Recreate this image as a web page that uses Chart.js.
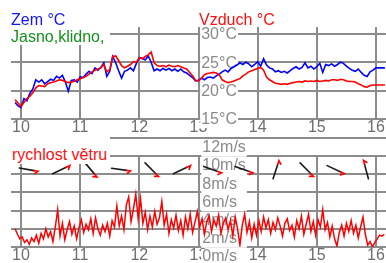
<!DOCTYPE html>
<html>
<head>
<meta charset="utf-8">
<script src="https://cdn.jsdelivr.net/npm/chart.js@4/dist/chart.umd.min.js"></script>
<style>
  html, body { margin:0; padding:0; background:#fff; overflow:hidden; width:386px; height:263px; }
  #wrap { position:relative; width:386px; height:263px; overflow:hidden; }
  canvas { position:absolute; left:0; }
  #c1 { top:0; }
  #c2 { top:137px; }
  .lbl { position:absolute; font-family:"Liberation Sans", Arial, sans-serif; font-size:16px; line-height:17px; white-space:nowrap; }
  .box { background:#fff; }
</style>
</head>
<body>
<div id="wrap">
  <canvas id="c1" width="386" height="137"></canvas>
  <canvas id="c2" width="386" height="128"></canvas>
  <div class="lbl box" style="left:0;top:8px;width:67px;height:19px;"></div>
  <div class="lbl" style="left:11px;top:11px;color:#1414ff;">Zem °C</div>
  <div class="lbl box" style="left:0;top:27px;width:110px;height:18px;padding-top:1px;box-sizing:border-box;"><span style="margin-left:11px;color:#12921a;">Jasno,klidno,</span></div>
  <div class="lbl" style="left:199px;top:11px;color:#ff1010;">Vzduch °C</div>
  <div class="lbl box" style="left:0;top:137px;width:110px;height:27px;padding-top:9px;box-sizing:border-box;"><span style="margin-left:12px;color:#ff1010;">rychlost větru</span></div>
</div>
<script>
// ---- data ----
const hourTicks = [10, 11, 12, 13, 14, 15, 16];
const tempTicks = [15, 20, 25, 30];
const windTicks = [0, 2, 4, 6, 8, 10, 12];

// temperature samples: start 9.90 h, every 0.05 h
const tempStart = 9.90, tempStep = 0.05;
const zemTemp = [
17.9,17.3,17.0,18.6,18.2,19.5,20.3,21.9,21.5,21.9,
21.2,21.6,22.0,21.8,22.5,22.2,22.7,21.5,19.9,21.8,
21.9,21.5,22.4,22.3,22.9,23.4,23.0,24.0,23.6,24.1,
24.9,22.5,23.4,26.0,24.9,23.5,22.2,23.4,23.6,24.0,
23.5,24.8,25.8,25.7,25.4,26.1,25.0,23.5,23.8,23.5,
23.9,23.6,23.9,23.5,23.8,23.4,23.8,23.3,23.1,22.7,
22.3,21.7,21.8,22.2,21.9,22.3,22.4,22.2,22.6,22.9,
23.3,23.6,23.3,23.9,24.2,24.5,24.9,24.6,25.0,24.7,
24.2,24.6,25.1,24.3,25.6,24.5,24.0,23.8,23.3,23.5,
23.2,23.4,23.1,23.5,23.9,24.2,23.8,24.1,24.9,24.0,
24.3,23.8,24.2,24.8,23.2,24.6,24.4,24.7,24.3,24.6,
25.0,24.8,24.3,23.9,23.6,23.4,23.8,23.2,22.7,22.5,
23.3,23.6,24.0,24.0,24.0,24.0];
const vzduchTemp = [
18.4,17.8,17.2,17.9,18.6,19.0,19.6,20.5,20.9,20.8,
20.7,21.2,21.4,21.5,21.7,21.9,21.8,21.6,21.4,21.5,
21.6,21.9,22.1,22.3,22.5,22.9,23.3,23.6,23.8,24.0,
24.6,23.3,23.7,26.0,26.1,25.3,24.4,24.0,24.3,24.6,
25.1,25.0,25.8,25.6,26.0,26.3,26.8,24.9,24.4,24.3,
24.4,24.2,24.5,24.3,24.2,24.4,24.2,24.0,23.8,23.2,
22.6,21.8,21.7,22.2,22.8,23.0,23.1,23.2,23.1,22.8,
21.9,21.6,21.4,21.5,21.7,21.9,22.1,22.6,22.9,23.3,
23.5,23.7,23.9,24.1,23.6,22.4,21.9,21.6,21.3,21.2,
21.1,21.2,21.1,21.3,21.4,21.5,21.6,21.5,21.7,21.6,
21.7,21.6,21.8,21.6,21.7,21.8,21.7,21.9,21.9,21.8,
22.0,21.9,21.7,21.6,21.6,21.5,21.2,21.0,20.7,20.6,
20.9,21.0,21.0,21.0,21.0,21.0];

// wind speed samples (m/s): start 9.90 h, every 0.04 h
const windStart = 9.90, windStep = 0.04;
const windSpeed = [
2.0,1.4,0.9,1.1,0.5,0.8,0.3,1.0,0.6,1.3,
0.4,1.5,0.9,2.0,1.1,1.7,0.6,2.2,4.1,1.2,
2.6,0.8,1.9,2.8,1.4,2.3,0.9,2.1,3.0,1.6,
2.5,1.9,3.1,1.5,3.2,2.0,1.3,2.4,1.7,2.6,
1.2,2.9,2.2,4.5,2.3,3.4,1.9,4.6,5.5,2.8,
4.2,5.8,3.1,5.3,2.6,3.8,1.9,3.4,2.2,3.9,
2.5,3.2,5.0,2.4,3.6,1.5,3.0,2.1,3.5,1.8,
2.9,1.3,3.3,2.0,3.6,1.6,2.7,3.9,2.2,3.1,
1.4,2.8,3.4,1.7,3.0,2.3,3.5,1.5,2.6,3.2,
1.9,2.9,1.2,3.3,2.0,0.2,2.4,3.6,1.6,2.8,
1.0,2.5,1.3,2.9,1.7,3.3,2.1,3.0,1.5,2.7,
1.9,3.2,2.3,1.2,2.6,3.1,1.8,2.4,1.1,2.9,
2.0,3.4,1.4,2.5,3.6,1.7,2.8,1.3,3.0,2.2,
4.1,1.9,2.7,1.1,2.3,0.9,0.1,1.6,2.4,1.2,
2.6,1.7,2.9,1.5,2.4,1.0,2.2,3.3,1.4,0.2,
0.6,0.0,0.5,0.9,1.3,1.2,1.4];

// wind direction arrows: time (h) and compass bearing the arrow points to (deg)
const windDirTimes = [10.13, 10.68, 11.18, 11.69, 12.21, 12.72, 13.24, 13.77, 14.31, 14.83, 15.32, 15.83];
const windDirBearing = [100, 65, 140, 98, 135, 65, 110, 110, 18, 135, 115, 345];

// ---- build ----
function sampleTimes(start, step, n) { const a = []; for (let i = 0; i < n; i++) a.push(+(start + i * step).toFixed(3)); return a; }
const tempTimes = sampleTimes(tempStart, tempStep, zemTemp.length);
const windTimes = sampleTimes(windStart, windStep, windSpeed.length);
const pts = (ts, vs) => vs.map((v, i) => ({ x: ts[i], y: v }));

const FONT = { family: '"Liberation Sans", Arial, sans-serif', size: 16, lineHeight: 1 };
const GRID = { color: '#8c8c8c', lineWidth: 2, drawTicks: false };
const X_MIN = 9.831, X_MAX = 16.169;

function xScale() {
  return {
    type: 'linear', min: X_MIN, max: X_MAX,
    afterBuildTicks: s => { s.ticks = hourTicks.map(v => ({ value: v })); },
    grid: GRID, border: { display: false },
    ticks: { font: FONT, color: '#6e6e6e', padding: 1, maxRotation: 0, autoSkip: false, callback: v => String(v) }
  };
}
const common = {
  responsive: false, animation: false, devicePixelRatio: 1, events: [],
  plugins: { legend: { display: false }, tooltip: { enabled: false } }
};

new Chart(document.getElementById('c1'), {
  type: 'line',
  data: { datasets: [
    { label: 'Vzduch °C', data: pts(tempTimes, vzduchTemp), borderColor: '#ff0000', borderWidth: 1.6, pointRadius: 0, tension: 0 },
    { label: 'Zem °C', data: pts(tempTimes, zemTemp), borderColor: '#0000ff', borderWidth: 1.6, pointRadius: 0, tension: 0 }
  ]},
  options: Object.assign({}, common, {
    layout: { padding: { left: 11, top: 27, right: 0, bottom: 0 } },
    scales: {
      x: xScale(),
      y: {
        type: 'linear', position: { x: 13.65 }, min: 15, max: 31.2,
        afterBuildTicks: s => { s.ticks = tempTicks.map(v => ({ value: v })); },
        grid: GRID, border: { display: false },
        ticks: { font: FONT, color: '#8a8a8a', padding: 0, autoSkip: false, labelOffset: 1,
          showLabelBackdrop: true, backdropColor: '#ffffff', backdropPadding: { top: 0, bottom: 0, left: 1, right: 1 },
          callback: v => v + '°C' }
      }
    }
  })
});

const arrowPlugin = {
  id: 'windArrows',
  afterDatasetsDraw(chart, args, opts) {
    const { ctx, scales: { x, y } } = chart;
    ctx.save();
    ctx.lineCap = 'round';
    windDirTimes.forEach((t, i) => {
      const cx = x.getPixelForValue(t), cy = y.getPixelForValue(opts.row);
      const a = (windDirBearing[i] - 90) * Math.PI / 180;
      const dx = Math.cos(a), dy = Math.sin(a), L = opts.length / 2;
      const ex = cx + dx * L, ey = cy + dy * L;
      ctx.strokeStyle = '#1a1a1a'; ctx.lineWidth = 1.6;
      ctx.beginPath(); ctx.moveTo(cx - dx * L, cy - dy * L); ctx.lineTo(ex - dx * 4, ey - dy * 4); ctx.stroke();
      ctx.strokeStyle = '#ff0000';
      const b = a + Math.PI * 0.75;
      ctx.beginPath(); ctx.moveTo(ex - dx * 4, ey - dy * 4); ctx.lineTo(ex, ey);
      ctx.lineTo(ex + Math.cos(b) * 4, ey + Math.sin(b) * 4); ctx.stroke();
    });
    ctx.restore();
  }
};

new Chart(document.getElementById('c2'), {
  type: 'line',
  data: { datasets: [
    { label: 'rychlost větru', data: pts(windTimes, windSpeed), borderColor: '#ff0000', borderWidth: 1.5, pointRadius: 0, tension: 0 }
  ]},
  plugins: [arrowPlugin],
  options: Object.assign({}, common, {
    layout: { padding: { left: 11, top: 19, right: 0, bottom: 0 } },
    plugins: { legend: { display: false }, tooltip: { enabled: false }, windArrows: { row: 8.5, length: 19 } },
    scales: {
      x: xScale(),
      y: {
        type: 'linear', position: { x: 13.80 }, min: 0, max: 10,
        afterBuildTicks: s => { s.ticks = windTicks.map(v => ({ value: v })); },
        grid: GRID, border: { display: false },
        ticks: { font: FONT, color: '#8a8a8a', padding: 0, autoSkip: false, labelOffset: 10,
          showLabelBackdrop: true, backdropColor: '#ffffff', backdropPadding: { top: 0, bottom: 1, left: 1, right: 1 },
          callback: v => v + 'm/s' + (v < 10 ? '  ' : '') }
      }
    }
  })
});
</script>
</body>
</html>
